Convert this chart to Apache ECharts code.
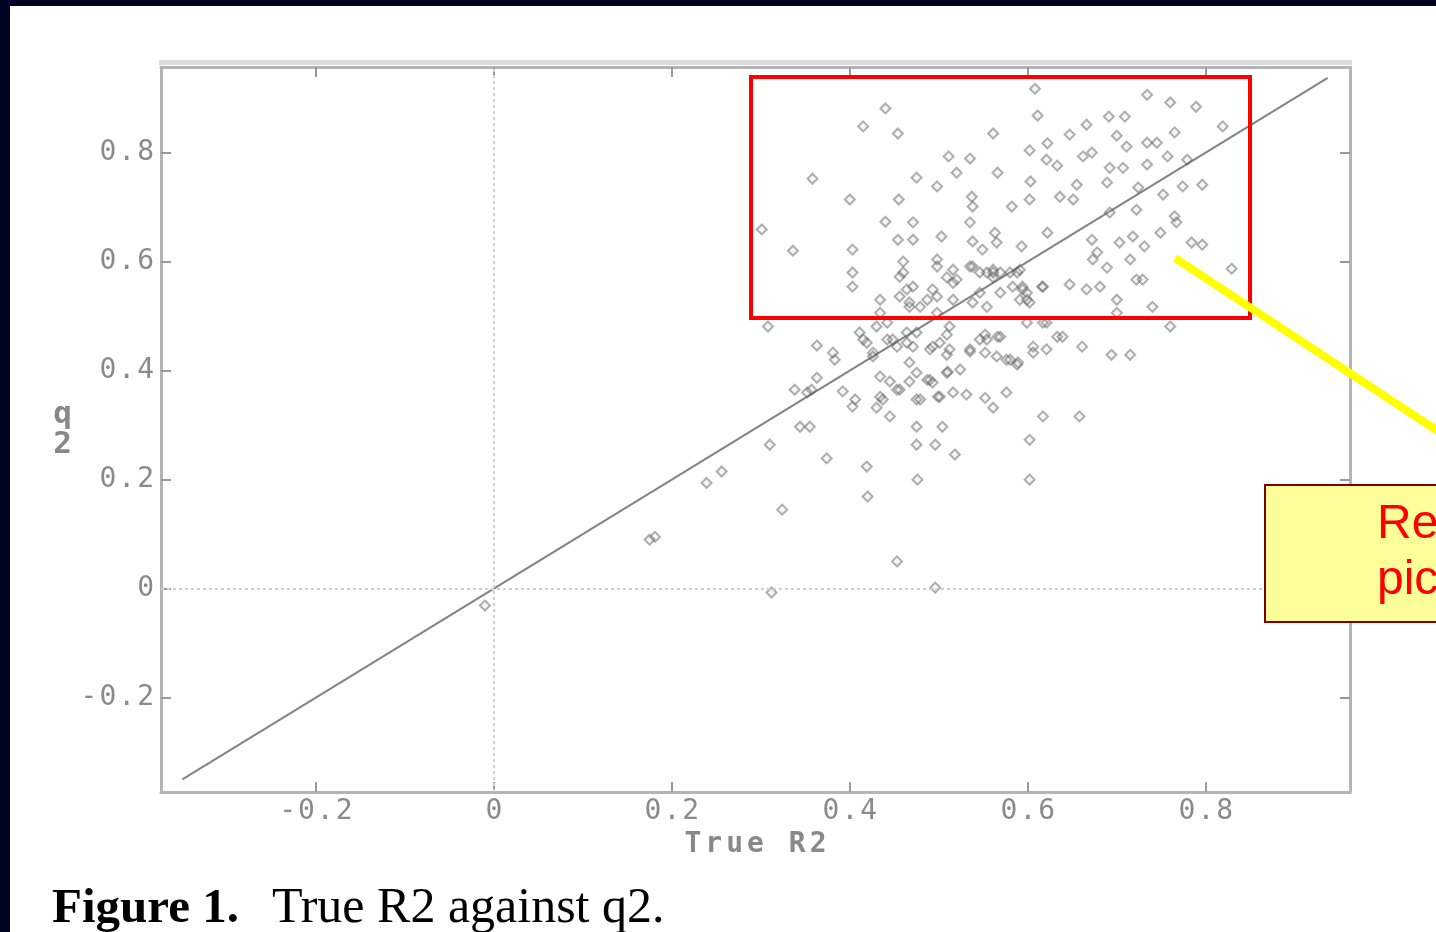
<!DOCTYPE html>
<html>
<head>
<meta charset="utf-8">
<title>True R2 against q2</title>
<script src="https://cdn.jsdelivr.net/npm/echarts@6/dist/echarts.min.js"></script>
<style>
  html, body { margin: 0; padding: 0; background: #ffffff; }
  #chart { width: 1436px; height: 932px; }
</style>
</head>
<body>
<div id="chart"></div>
<script>
// Axis ranges and tick positions
const X_RANGE = [-0.374, 0.962];
const Y_RANGE = [-0.373, 0.957];
const X_TICKS = [-0.2, 0, 0.2, 0.4, 0.6, 0.8];
const Y_TICKS = [-0.2, 0, 0.2, 0.4, 0.6, 0.8];

// Reference line q2 = True R2
const IDENTITY_SPAN = [-0.35, 0.937];

// Observations: [True R2, q2]
const points = [
  [0.608,0.917],[0.440,0.881],[0.415,0.848],[0.454,0.835],[0.734,0.906],[0.760,0.892],[0.789,0.884],
  [0.611,0.868],[0.666,0.851],[0.691,0.866],[0.709,0.866],[0.647,0.833],[0.561,0.835],[0.819,0.848],
  [0.511,0.793],[0.535,0.789],[0.520,0.763],[0.622,0.817],[0.602,0.804],[0.621,0.787],[0.633,0.776],
  [0.662,0.793],[0.672,0.800],[0.700,0.831],[0.711,0.811],[0.734,0.818],[0.745,0.818],[0.765,0.837],
  [0.757,0.793],[0.779,0.787],
  [0.475,0.754],[0.498,0.738],[0.358,0.752],[0.566,0.763],[0.603,0.747],[0.655,0.741],[0.689,0.745],
  [0.692,0.772],[0.707,0.772],[0.734,0.778],[0.724,0.736],[0.752,0.723],[0.774,0.738],[0.796,0.741],
  [0.400,0.714],[0.455,0.714],[0.537,0.719],[0.538,0.701],[0.582,0.701],[0.602,0.714],[0.636,0.719],
  [0.651,0.714],[0.692,0.690],[0.722,0.695],[0.765,0.683],[0.767,0.672],
  [0.301,0.659],[0.336,0.620],[0.403,0.622],[0.440,0.673],[0.471,0.672],[0.454,0.640],[0.471,0.640],
  [0.503,0.646],[0.535,0.672],[0.538,0.637],[0.563,0.653],[0.593,0.628],[0.622,0.653],[0.672,0.640],
  [0.678,0.617],[0.703,0.635],[0.718,0.646],[0.731,0.628],[0.749,0.653],[0.784,0.635],[0.796,0.631],
  [0.829,0.587],
  [0.403,0.580],[0.403,0.554],[0.460,0.600],[0.456,0.572],[0.464,0.549],[0.498,0.604],[0.493,0.549],
  [0.516,0.585],[0.520,0.567],[0.538,0.591],[0.554,0.580],[0.561,0.571],[0.588,0.580],[0.594,0.554],
  [0.616,0.554],[0.647,0.558],[0.666,0.549],[0.681,0.554],[0.673,0.604],[0.689,0.589],[0.715,0.604],
  [0.722,0.567],[0.729,0.567],[0.740,0.517],
  [0.434,0.530],[0.434,0.506],[0.456,0.536],[0.467,0.517],[0.487,0.530],[0.498,0.506],[0.516,0.530],
  [0.538,0.525],[0.546,0.543],[0.599,0.543],[0.602,0.525],[0.700,0.530],[0.700,0.506],[0.760,0.481],
  [0.308,0.481],
  [0.460,0.580],[0.471,0.554],[0.467,0.525],[0.479,0.517],[0.498,0.591],[0.509,0.571],[0.498,0.536],
  [0.516,0.561],[0.535,0.591],[0.546,0.580],[0.549,0.622],[0.565,0.635],[0.561,0.585],[0.569,0.580],
  [0.580,0.580],[0.591,0.585],[0.583,0.554],[0.594,0.549],[0.617,0.554],[0.554,0.517],[0.591,0.530],
  [0.599,0.530],[0.621,0.488],[0.621,0.439],[0.561,0.580],[0.569,0.543],
  [0.363,0.446],[0.383,0.420],[0.381,0.433],[0.411,0.470],[0.419,0.451],[0.430,0.481],[0.442,0.488],
  [0.426,0.433],[0.453,0.444],[0.471,0.444],[0.464,0.470],[0.467,0.415],[0.490,0.439],[0.509,0.429],
  [0.535,0.435],[0.552,0.433],[0.552,0.466],[0.566,0.462],[0.512,0.481],[0.576,0.420],[0.589,0.415],
  [0.606,0.444],[0.633,0.462],[0.639,0.462],[0.661,0.444],[0.694,0.429],[0.715,0.429],[0.599,0.488],
  [0.617,0.488],
  [0.415,0.457],[0.426,0.426],[0.442,0.457],[0.448,0.457],[0.464,0.451],[0.475,0.470],[0.493,0.444],
  [0.501,0.451],[0.512,0.439],[0.509,0.466],[0.535,0.439],[0.546,0.457],[0.554,0.457],[0.569,0.462],
  [0.565,0.426],[0.580,0.420],[0.588,0.411],[0.606,0.433],
  [0.363,0.387],[0.338,0.365],[0.357,0.365],[0.392,0.362],[0.406,0.347],[0.434,0.389],[0.445,0.380],
  [0.434,0.352],[0.437,0.347],[0.456,0.365],[0.467,0.380],[0.490,0.383],[0.475,0.347],[0.499,0.352],
  [0.510,0.398],[0.524,0.402],[0.531,0.356],[0.552,0.350],[0.561,0.332],[0.576,0.360],[0.352,0.360],
  [0.453,0.365],[0.475,0.396],[0.479,0.347],[0.487,0.383],[0.493,0.378],[0.509,0.396],[0.516,0.360],
  [0.501,0.352],
  [0.403,0.334],[0.430,0.332],[0.445,0.316],[0.344,0.297],[0.355,0.297],[0.310,0.264],[0.475,0.297],
  [0.504,0.297],[0.617,0.316],[0.658,0.316],[0.475,0.264],[0.496,0.264],[0.374,0.239],[0.419,0.224],
  [0.518,0.246],[0.602,0.273],[0.476,0.200],[0.602,0.200],[0.324,0.145],[0.420,0.169],[0.256,0.215],
  [0.239,0.194],[0.181,0.095],[0.175,0.090],[0.453,0.050],[0.496,0.002],[0.312,-0.007],[-0.010,-0.031]
];

// Text
const X_NAME = 'True R2';
const Y_NAME = ['q', '2'];          // stacked vertically, upright glyphs
const CAPTION_BOLD = 'Figure 1.';
const CAPTION_TEXT = 'True R2 against q2.';
const NOTE_LINES = ['Re', 'pic'];

const AXIS_FONT = 'DejaVu Sans Mono';
const AXIS_GRAY = '#8a8a8a';

// Spread characters apart with rich-text padding
function spaced(str, key) {
  return str.split('').map(function (ch) { return '{' + key + '|' + ch + '}'; }).join('');
}
function tickText(v) {
  const r = Math.round(v * 10) / 10;
  return spaced(r === 0 ? '0' : r.toFixed(1), 't');
}

const tickRich = {
  t: { fontFamily: AXIS_FONT, fontSize: 28, color: AXIS_GRAY, padding: [0, 1, 0, 1] }
};
const nameRich = {
  n: { fontFamily: AXIS_FONT, fontSize: 28, fontWeight: 'bold', color: '#888888', padding: [0, 2, 0, 2] },
  v: { fontFamily: AXIS_FONT, fontSize: 31, fontWeight: 'bold', color: '#888888', lineHeight: 30 }
};

function axisBase(pos, range, ticks, showLabels) {
  return {
    type: 'value',
    position: pos,
    min: range[0],
    max: range[1],
    axisLine: { show: true, onZero: false, lineStyle: { color: '#b4b4b4', width: 3 } },
    axisTick: {
      show: true, inside: true, length: 10, customValues: ticks,
      lineStyle: { color: '#9a9a9a', width: 2 }
    },
    axisLabel: showLabels ? {
      show: true, customValues: ticks, formatter: tickText, rich: tickRich, margin: 6
    } : { show: false },
    splitLine: { show: false }
  };
}

const xBottom = Object.assign(axisBase('bottom', X_RANGE, X_TICKS, true), {
  name: spaced(X_NAME, 'n'), nameLocation: 'middle', nameGap: 38,
  nameTextStyle: { rich: nameRich }
});
const xTop = axisBase('top', X_RANGE, X_TICKS, false);
const yLeft = Object.assign(axisBase('left', Y_RANGE, Y_TICKS, true), {
  name: Y_NAME.map(function (c) { return '{v|' + c + '}'; }).join('\n'),
  nameLocation: 'middle', nameGap: 89, nameRotate: 0,
  nameTextStyle: { rich: nameRich, align: 'right', verticalAlign: 'middle' }
});
const yRight = axisBase('right', Y_RANGE, Y_TICKS, false);

const chart = echarts.init(document.getElementById('chart'), null, { renderer: 'canvas' });

chart.setOption({
  animation: false,
  backgroundColor: '#ffffff',
  grid: { left: 161, right: 86, top: 67, bottom: 140, containLabel: false, outerBoundsMode: 'none' },
  xAxis: [xBottom, xTop],
  yAxis: [yLeft, yRight],
  series: [
    {
      type: 'line',
      data: [[IDENTITY_SPAN[0], IDENTITY_SPAN[0]], [IDENTITY_SPAN[1], IDENTITY_SPAN[1]]],
      symbol: 'none',
      lineStyle: { color: '#838383', width: 2 },
      z: 3,
      silent: true,
      markLine: {
        silent: true,
        symbol: 'none',
        label: { show: false },
        lineStyle: { color: '#cfcfcf', width: 2, type: [3, 3] },
        data: [{ xAxis: 0 }, { yAxis: 0 }]
      }
    },
    {
      type: 'scatter',
      data: points,
      symbol: 'diamond',
      symbolSize: 10,
      itemStyle: { color: 'rgba(190,190,190,0.18)', borderColor: 'rgba(95,95,95,0.62)', borderWidth: 2 },
      z: 4
    }
  ],
  graphic: [
    // slide frame strips
    { type: 'rect', shape: { x: 0, y: 0, width: 1436, height: 6 }, style: { fill: '#020224' }, z: 100 },
    { type: 'rect', shape: { x: 0, y: 0, width: 10, height: 932 }, style: { fill: '#020224' }, z: 100 },
    // pale band above the plot frame
    { type: 'rect', shape: { x: 159, y: 60, width: 1193, height: 5 }, style: { fill: '#dcdcdc' }, z: 1 },
    // highlight rectangle
    { type: 'rect', shape: { x: 751, y: 77, width: 499, height: 241 },
      style: { fill: 'none', stroke: '#ff0000', lineWidth: 4 }, z: 50 },
    // callout pointer
    { type: 'line', shape: { x1: 1175, y1: 258, x2: 1462, y2: 447 },
      style: { stroke: '#ffff00', lineWidth: 8 }, z: 51 },
    // callout box
    { type: 'rect', shape: { x: 1265, y: 485, width: 300, height: 137 },
      style: { fill: '#ffff99', stroke: '#800000', lineWidth: 2 }, z: 52 },
    { type: 'text', x: 1377, y: 525, z: 53,
      style: { text: NOTE_LINES[0], fill: '#ff0000', font: '48px "Liberation Sans", Arial, sans-serif', verticalAlign: 'middle' } },
    { type: 'text', x: 1377, y: 581, z: 53,
      style: { text: NOTE_LINES[1], fill: '#ff0000', font: '48px "Liberation Sans", Arial, sans-serif', verticalAlign: 'middle' } },
    // figure caption
    { type: 'text', x: 52, y: 909, z: 53,
      style: {
        text: '{b|' + CAPTION_BOLD + '}{r|' + CAPTION_TEXT + '}',
        verticalAlign: 'middle',
        fill: '#000000',
        rich: {
          b: { fontFamily: 'Liberation Serif', fontWeight: 'bold', fontSize: 49, color: '#000', padding: [0, 33, 0, 0] },
          r: { fontFamily: 'Liberation Serif', fontSize: 50, color: '#000' }
        }
      } }
  ]
});
</script>
</body>
</html>
